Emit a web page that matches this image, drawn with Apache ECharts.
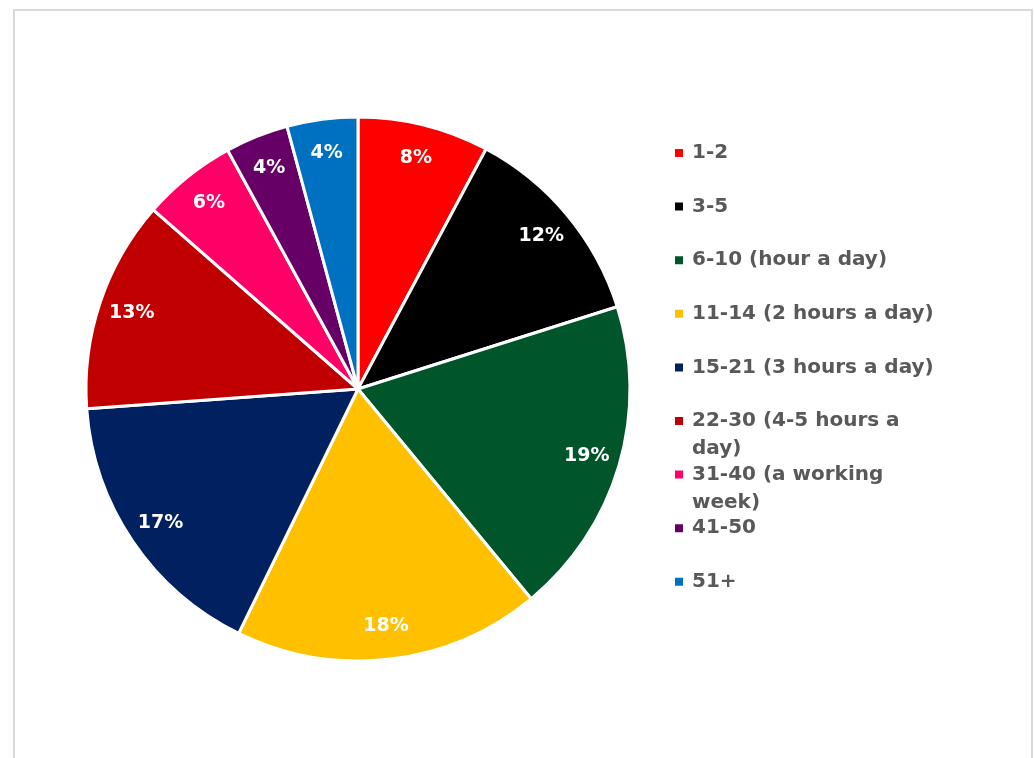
<!DOCTYPE html>
<html>
<head>
<meta charset="utf-8">
<script src="https://cdn.jsdelivr.net/npm/echarts@6/dist/echarts.min.js"></script>
<style>
html,body{margin:0;padding:0;background:#fff;}
#chart{width:1034px;height:758px;}
</style>
</head>
<body>
<div id="chart"></div>
<script>
// Data
const categories = ['1-2', '3-5', '6-10 (hour a day)', '11-14 (2 hours a day)', '15-21 (3 hours a day)',
  '22-30 (4-5 hours a day)', '31-40 (a working week)', '41-50', '51+'];
const legendLabels = ['1-2', '3-5', '6-10 (hour a day)', '11-14 (2 hours a day)', '15-21 (3 hours a day)',
  '22-30 (4-5 hours a\nday)', '31-40 (a working\nweek)', '41-50', '51+'];
const shares = [7.8, 12.3, 18.9, 18.2, 16.6, 12.6, 5.6, 3.75, 4.2];
const colors = ['#FF0000', '#000000', '#00562A', '#FFC000', '#002060', '#C00000', '#FF0066', '#660066', '#0070C0'];

const chart = echarts.init(document.getElementById('chart'));
const center = [358, 389];
const R = 272;

const mainData = categories.map((c, i) => ({ name: c, value: shares[i], itemStyle: { color: colors[i] } }));
const labelData = categories.map((c, i) => ({ name: c, value: shares[i] }));

chart.setOption({
  backgroundColor: '#fff',
  animation: false,
  graphic: [{
    type: 'rect', silent: true, z: -10,
    shape: { x: 14, y: 10, width: 1018, height: 800 },
    style: { fill: '#fff', stroke: '#D9D9D9', lineWidth: 2 }
  }],
  legend: {
    orient: 'vertical',
    left: 668,
    top: 106,
    itemWidth: 10,
    itemHeight: 10,
    itemGap: -30.4,
    icon: 'rect',
    data: categories,
    formatter: function (name) {
      const i = categories.indexOf(name);
      const lbl = legendLabels[i];
      return lbl.indexOf('\n') >= 0 ? '\n' + lbl : '\n' + lbl + '\n';
    },
    textStyle: { fontFamily: 'DejaVu Sans', fontWeight: 'bold', fontSize: 20, color: '#595959', lineHeight: 28, padding: [0, 0, 0, 3] }
  },
  series: [{
    type: 'pie',
    center: center,
    radius: R,
    startAngle: 90,
    clockwise: true,
    data: mainData,
    label: { show: false },
    labelLine: { show: false },
    itemStyle: { borderColor: '#fff', borderWidth: 3 },
    emphasis: { disabled: true }
  }, {
    type: 'pie',
    center: center,
    radius: [199, R],
    startAngle: 90,
    clockwise: true,
    silent: true,
    z: 5,
    data: labelData,
    itemStyle: { color: 'rgba(0,0,0,0)', borderWidth: 0 },
    label: {
      show: true, position: 'inside',
      formatter: function (p) { return Math.round(p.percent) + '%'; },
      color: '#fff', fontFamily: 'DejaVu Sans', fontWeight: 'bold', fontSize: 19
    },
    labelLine: { show: false },
    emphasis: { disabled: true }
  }]
});
</script>
</body>
</html>
